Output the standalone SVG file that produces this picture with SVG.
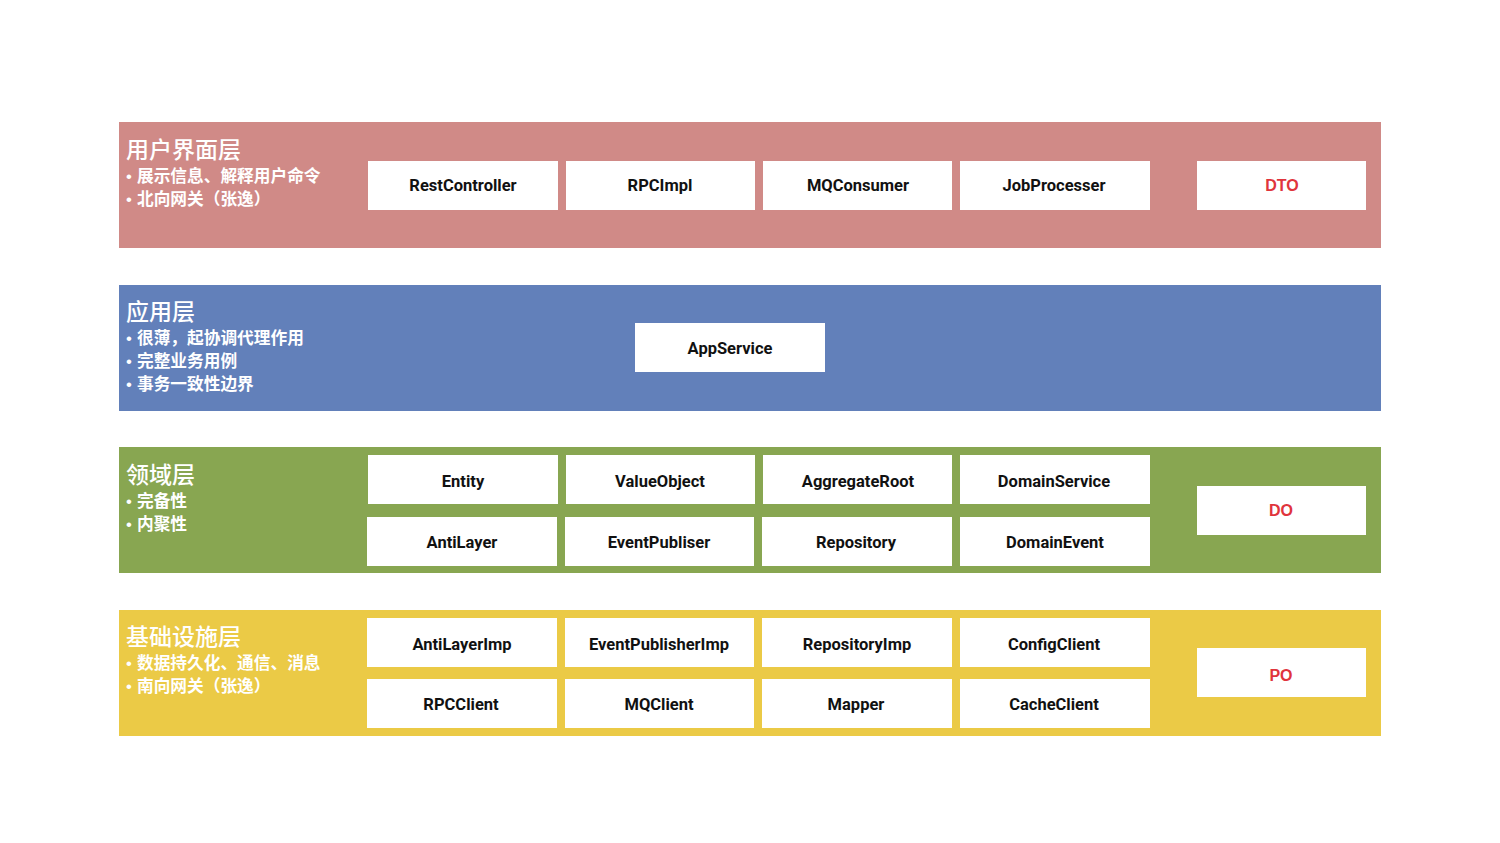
<svg xmlns="http://www.w3.org/2000/svg" width="1500" height="843" viewBox="0 0 1500 843">
<style>
.bg{fill:#fff}
.box{fill:#fff}
.bt{font-family:Roboto,"Liberation Sans","Noto Sans CJK SC",sans-serif;font-weight:bold;font-size:16.5px;fill:#111;text-anchor:middle}
.rt{font-family:"Liberation Sans",Roboto,"Noto Sans CJK SC",sans-serif;font-weight:bold;font-size:16px;fill:#E0343C;text-anchor:middle}
.title{font-family:"Noto Sans CJK SC",sans-serif;font-size:23px;font-weight:500;fill:#fff}
.bul{font-family:"Noto Sans CJK SC",sans-serif;font-size:16.7px;font-weight:bold;fill:#fff}
.dot{font-family:"Liberation Sans",sans-serif;font-weight:normal}
</style>
<rect class="bg" x="0" y="0" width="1500" height="843"/>

<g id="layer-ui">
<rect x="119" y="122" width="1262" height="126" fill="#D08A87"/>
<text class="title" x="126" y="158">用户界面层</text>
<text class="bul" x="126" y="182"><tspan class="dot">•</tspan><tspan x="137">展示信息、解释用户命令</tspan></text>
<text class="bul" x="126" y="205"><tspan class="dot">•</tspan><tspan x="137">北向网关（张逸）</tspan></text>
</g>
<g id="n-restcontroller"><rect class="box" x="368" y="161" width="190" height="49"/><text class="bt" x="463" y="191">RestController</text></g>
<g id="n-rpcimpl"><rect class="box" x="566" y="161" width="189" height="49"/><text class="bt" x="660" y="191">RPCImpl</text></g>
<g id="n-mqconsumer"><rect class="box" x="763" y="161" width="189" height="49"/><text class="bt" x="858" y="191">MQConsumer</text></g>
<g id="n-jobprocesser"><rect class="box" x="960" y="161" width="190" height="49"/><text class="bt" x="1054" y="191">JobProcesser</text></g>
<g id="n-dto"><rect class="box" x="1197" y="161" width="169" height="49"/><text class="rt" x="1282" y="191">DTO</text></g>

<g id="layer-app">
<rect x="119" y="285" width="1262" height="126" fill="#6280BA"/>
<text class="title" x="126" y="320">应用层</text>
<text class="bul" x="126" y="344"><tspan class="dot">•</tspan><tspan x="137">很薄，起协调代理作用</tspan></text>
<text class="bul" x="126" y="367"><tspan class="dot">•</tspan><tspan x="137">完整业务用例</tspan></text>
<text class="bul" x="126" y="390"><tspan class="dot">•</tspan><tspan x="137">事务一致性边界</tspan></text>
</g>
<g id="n-appservice"><rect class="box" x="635" y="323" width="190" height="49"/><text class="bt" x="730" y="354">AppService</text></g>

<g id="layer-domain">
<rect x="119" y="447" width="1262" height="126" fill="#88A651"/>
<text class="title" x="126" y="483">领域层</text>
<text class="bul" x="126" y="507"><tspan class="dot">•</tspan><tspan x="137">完备性</tspan></text>
<text class="bul" x="126" y="530"><tspan class="dot">•</tspan><tspan x="137">内聚性</tspan></text>
</g>
<g id="n-entity"><rect class="box" x="368" y="455" width="190" height="49"/><text class="bt" x="463" y="487">Entity</text></g>
<g id="n-valueobject"><rect class="box" x="566" y="455" width="189" height="49"/><text class="bt" x="660" y="487">ValueObject</text></g>
<g id="n-aggregateroot"><rect class="box" x="763" y="455" width="189" height="49"/><text class="bt" x="858" y="487">AggregateRoot</text></g>
<g id="n-domainservice"><rect class="box" x="960" y="455" width="190" height="49"/><text class="bt" x="1054" y="487">DomainService</text></g>
<g id="n-antilayer"><rect class="box" x="367" y="517" width="190" height="49"/><text class="bt" x="462" y="548">AntiLayer</text></g>
<g id="n-eventpubliser"><rect class="box" x="565" y="517" width="189" height="49"/><text class="bt" x="659" y="548">EventPubliser</text></g>
<g id="n-repository"><rect class="box" x="762" y="517" width="190" height="49"/><text class="bt" x="856" y="548">Repository</text></g>
<g id="n-domainevent"><rect class="box" x="960" y="517" width="190" height="49"/><text class="bt" x="1055" y="548">DomainEvent</text></g>
<g id="n-do"><rect class="box" x="1197" y="486" width="169" height="49"/><text class="rt" x="1281" y="516">DO</text></g>

<g id="layer-infra">
<rect x="119" y="610" width="1262" height="126" fill="#EBCA46"/>
<text class="title" x="126" y="645">基础设施层</text>
<text class="bul" x="126" y="669"><tspan class="dot">•</tspan><tspan x="137">数据持久化、通信、消息</tspan></text>
<text class="bul" x="126" y="692"><tspan class="dot">•</tspan><tspan x="137">南向网关（张逸）</tspan></text>
</g>
<g id="n-antilayerimp"><rect class="box" x="367" y="618" width="190" height="49"/><text class="bt" x="462" y="650">AntiLayerImp</text></g>
<g id="n-eventpublisherimp"><rect class="box" x="565" y="618" width="189" height="49"/><text class="bt" x="659" y="650">EventPublisherImp</text></g>
<g id="n-repositoryimp"><rect class="box" x="762" y="618" width="190" height="49"/><text class="bt" x="857" y="650">RepositoryImp</text></g>
<g id="n-configclient"><rect class="box" x="960" y="618" width="190" height="49"/><text class="bt" x="1054" y="650">ConfigClient</text></g>
<g id="n-rpcclient"><rect class="box" x="367" y="679" width="190" height="49"/><text class="bt" x="461" y="710">RPCClient</text></g>
<g id="n-mqclient"><rect class="box" x="565" y="679" width="189" height="49"/><text class="bt" x="659" y="710">MQClient</text></g>
<g id="n-mapper"><rect class="box" x="762" y="679" width="190" height="49"/><text class="bt" x="856" y="710">Mapper</text></g>
<g id="n-cacheclient"><rect class="box" x="960" y="679" width="190" height="49"/><text class="bt" x="1054" y="710">CacheClient</text></g>
<g id="n-po"><rect class="box" x="1197" y="648" width="169" height="49"/><text class="rt" x="1281" y="681">PO</text></g>

<g id="connectors"></g>
</svg>
